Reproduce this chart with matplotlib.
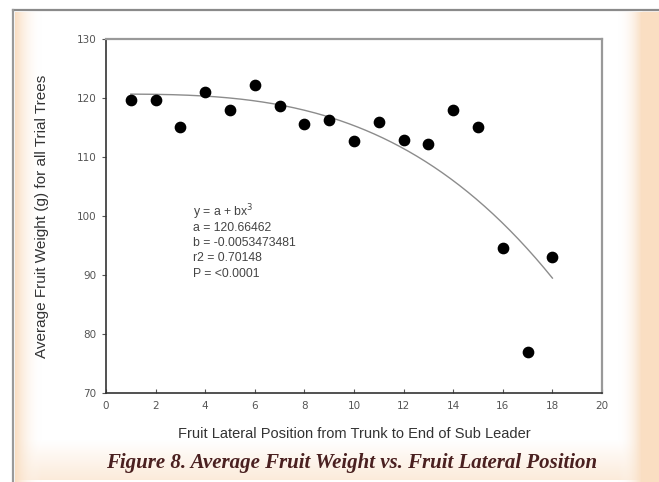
import numpy as np
import matplotlib
matplotlib.use("Agg")
import matplotlib.pyplot as plt
from matplotlib.patches import Rectangle

# Data
positions = [1, 2, 3, 4, 5, 6, 7, 8, 9, 10, 11, 12, 13, 14, 15, 16, 17, 18]
weights = [119.7, 119.7, 115.1, 121.0, 118.0, 122.2, 118.6, 115.6, 116.3,
           112.7, 115.9, 112.9, 112.2, 118.0, 115.1, 94.6, 77.0, 93.1]
fit_a = 120.66462
fit_b = -0.0053473481
x_ticks = [0, 2, 4, 6, 8, 10, 12, 14, 16, 18, 20]
y_ticks = [70, 80, 90, 100, 110, 120, 130]
stats_lines = ["y = a + bx$^3$", "a = 120.66462", "b = -0.0053473481",
               "r2 = 0.70148", "P = <0.0001"]
x_label = "Fruit Lateral Position from Trunk to End of Sub Leader"
y_label = "Average Fruit Weight (g) for all Trial Trees"
caption = "Figure 8. Average Fruit Weight vs. Fruit Lateral Position"

W, H = 659, 482
fig = plt.figure(figsize=(W / 100, H / 100), dpi=100)
fig.patch.set_facecolor("white")

# Background decoration (figure-level axes in pixel coords)
bg = fig.add_axes([0, 0, 1, 1], zorder=-10)
bg.set_xlim(0, W)
bg.set_ylim(H, 0)
bg.axis("off")
peach = np.array([0.98, 0.87, 0.76])
white = np.array([1.0, 1.0, 1.0])
g = np.linspace(0, 1, 64)
# bottom band gradient
bot_img = np.array([white * (1 - t) + (peach * 0.6 + white * 0.4) * t for t in g])[:, None, :]
bg.imshow(bot_img, extent=(15, 640, 480, 440), aspect="auto", zorder=0)
# left strip gradient
left_img = np.array([np.append(peach * (1 - t) + white * t, 1 - t) for t in g])[None, :, :]
bg.imshow(left_img, extent=(15, 42, H, 12), aspect="auto", zorder=1)
# right strip gradient
right_img = np.array([np.append(white * (1 - t) + peach * t, t) for t in g])[None, :, :]
bg.imshow(right_img, extent=(618, 642, H, 12), aspect="auto", zorder=1)
bg.add_patch(Rectangle((642, 12), 17, H - 12, color=tuple(peach), zorder=1))
# frame lines
bg.plot([13, 659], [10, 10], color="#8a8a8a", lw=1.6, zorder=2)
bg.plot([13, 13], [10, 482], color="#9a9a9a", lw=1.6, zorder=2)

# Main axes
ax = fig.add_axes([106 / W, 1 - 393 / H, (602 - 106) / W, (393 - 39) / H])
ax.set_facecolor("white")
ax.scatter(positions, weights, s=55, color="black", zorder=3)
xs = np.linspace(min(positions), max(positions), 200)
ax.plot(xs, fit_a + fit_b * xs ** 3, color="#8c8c8c", lw=1.0, zorder=2)

ax.set_xlim(0, 20)
ax.set_ylim(70, 130)
ax.set_xticks(x_ticks)
ax.set_yticks(y_ticks)
ax.tick_params(axis="x", direction="in", length=3, labelsize=7.5, colors="#555555", pad=6)
ax.tick_params(axis="y", direction="out", length=3, labelsize=7.5, colors="#555555", pad=4)
for s in ["left", "bottom"]:
    ax.spines[s].set_color("#333333")
    ax.spines[s].set_linewidth(1.2)
for s in ["top", "right"]:
    ax.spines[s].set_color("#999999")
    ax.spines[s].set_linewidth(1.6)

ax.set_xlabel(x_label, fontsize=10.5, color="#333333", labelpad=11,
              family="Liberation Sans")
ax.set_ylabel(y_label, fontsize=11, color="#333333", labelpad=20,
              family="Liberation Sans")

for i, line in enumerate(stats_lines):
    ax.text(3.5, 100.6 - i * 2.6, line, fontsize=8.8, color="#444444", va="center",
            family="Liberation Sans")

fig.text(352 / W, 1 - 463 / H, caption, ha="center", va="center",
         fontsize=15, fontweight="bold", fontstyle="italic",
         family="Liberation Serif", color="#4a2020")

fig.savefig("out.png", dpi=100)
